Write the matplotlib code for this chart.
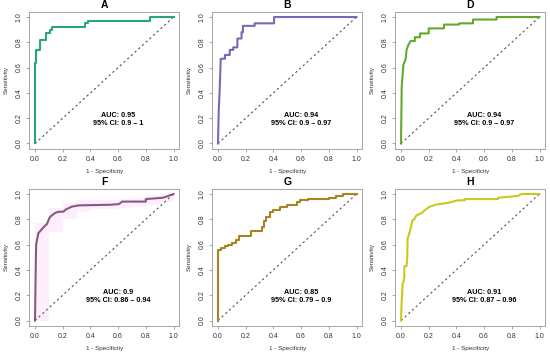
import matplotlib.pyplot as plt

plt.rcParams['font.family'] = ['Liberation Sans', 'DejaVu Sans']

# ROC curves (1 - specificity, sensitivity)
fpr_A = [0, 0, 0.01, 0.01, 0.035, 0.035, 0.08, 0.08, 0.11, 0.11, 0.125, 0.125, 0.36, 0.36, 0.38, 0.38, 0.83, 0.83, 1.0]
tpr_A = [0, 0.64, 0.64, 0.74, 0.74, 0.82, 0.82, 0.87, 0.87, 0.90, 0.90, 0.92, 0.92, 0.95, 0.95, 0.97, 0.97, 1.0, 1.0]

fpr_B = [0, 0.005, 0.012, 0.02, 0.05, 0.05, 0.085, 0.085, 0.11, 0.11, 0.14, 0.14, 0.17, 0.17, 0.18, 0.18, 0.265, 0.265, 0.405, 0.405, 1.0]
tpr_B = [0, 0.25, 0.42, 0.67, 0.67, 0.70, 0.70, 0.74, 0.74, 0.76, 0.76, 0.83, 0.83, 0.88, 0.88, 0.93, 0.93, 0.95, 0.95, 1.0, 1.0]

fpr_D = [0, 0.005, 0.017, 0.034, 0.04, 0.053, 0.07, 0.10, 0.10, 0.137, 0.137, 0.20, 0.20, 0.31, 0.31, 0.42, 0.42, 0.52, 0.52, 0.69, 0.69, 1.0]
tpr_D = [0, 0.45, 0.62, 0.67, 0.74, 0.78, 0.81, 0.81, 0.84, 0.84, 0.87, 0.87, 0.91, 0.91, 0.94, 0.94, 0.95, 0.95, 0.98, 0.98, 1.0, 1.0]

fpr_F = [0, 0.005, 0.008, 0.024, 0.048, 0.073, 0.085, 0.104, 0.109, 0.145, 0.17, 0.206, 0.218, 0.266, 0.315, 0.545, 0.605, 0.63, 0.8, 0.8, 0.92, 0.95, 1.0]
tpr_F = [0, 0.40, 0.60, 0.69, 0.72, 0.75, 0.76, 0.81, 0.82, 0.85, 0.86, 0.86, 0.875, 0.90, 0.91, 0.915, 0.92, 0.94, 0.94, 0.96, 0.97, 0.98, 1.0]
# pink confidence band for F (sensitivity CI)
ci_x_F = [0, 0.1, 0.2, 0.3, 0.4, 0.5, 0.6, 0.7, 0.8, 0.9, 1.0]
ci_lo_F = [0, 0.70, 0.80, 0.86, 0.88, 0.88, 0.89, 0.90, 0.91, 0.94, 0.97]
ci_hi_F = [0.77, 0.89, 0.93, 0.95, 0.95, 0.95, 0.96, 0.97, 0.99, 1.0, 1.0]

fpr_G = [0, 0, 0.02, 0.02, 0.05, 0.05, 0.07, 0.07, 0.10, 0.10, 0.13, 0.13, 0.15, 0.15, 0.24, 0.24, 0.315, 0.315, 0.33, 0.33, 0.345, 0.345,
         0.375, 0.375, 0.40, 0.40, 0.45, 0.45, 0.50, 0.50, 0.57, 0.57, 0.59, 0.59, 0.65, 0.65, 0.80, 0.80, 0.85, 0.85, 0.90, 0.90, 1.0]
tpr_G = [0, 0.56, 0.56, 0.575, 0.575, 0.59, 0.59, 0.60, 0.60, 0.615, 0.615, 0.64, 0.64, 0.67, 0.67, 0.71, 0.71, 0.74, 0.74, 0.79, 0.79, 0.82,
         0.82, 0.855, 0.855, 0.875, 0.875, 0.895, 0.895, 0.915, 0.915, 0.94, 0.94, 0.95, 0.95, 0.96, 0.96, 0.97, 0.97, 0.985, 0.985, 1.0, 1.0]

fpr_H = [0, 0.005, 0.012, 0.017, 0.024, 0.024, 0.04, 0.045, 0.048, 0.058, 0.072, 0.082, 0.096, 0.11, 0.15, 0.17, 0.20, 0.245, 0.34, 0.41,
         0.46, 0.46, 0.70, 0.70, 0.845, 0.87, 1.0]
tpr_H = [0, 0.15, 0.295, 0.30, 0.34, 0.43, 0.43, 0.49, 0.65, 0.68, 0.74, 0.79, 0.80, 0.83, 0.85, 0.87, 0.895, 0.915, 0.93, 0.95,
         0.95, 0.96, 0.96, 0.97, 0.985, 1.0, 1.0]

titles = ['A', 'B', 'D', 'F', 'G', 'H']
aucs = ['0.95', '0.94', '0.94', '0.9', '0.85', '0.91']
cis = ['0.9 \u2013 1', '0.9 \u2013 0.97', '0.9 \u2013 0.97', '0.86 \u2013 0.94', '0.79 \u2013 0.9', '0.87 \u2013 0.96']
colors = ['#2aa57f', '#6f6cbb', '#66a82e', '#8a5883', '#a8841e', '#c9c91e']
curves = [(fpr_A, tpr_A), (fpr_B, tpr_B), (fpr_D, tpr_D), (fpr_F, tpr_F), (fpr_G, tpr_G), (fpr_H, tpr_H)]

W, H = 550, 356
fig = plt.figure(figsize=(W / 100, H / 100), dpi=100)

x0_px = [35, 218, 401]   # pixel of x = 0 in each column
y1_px = [17, 194]        # pixel of y = 1 in each row
sx, sy = 138.5, 126.5    # pixels per data unit

for i in range(6):
    r, c = divmod(i, 3)
    left = x0_px[c] - 0.04 * sx
    top = y1_px[r] - 0.04 * sy
    ax = fig.add_axes([left / W, 1 - (top + 1.08 * sy) / H, 1.08 * sx / W, 1.08 * sy / H])
    fpr, tpr = curves[i]
    if titles[i] == 'F':
        ax.fill_between(ci_x_F, ci_lo_F, ci_hi_F, step='post', color='#fdf0fc', lw=0, zorder=0)
    ax.plot([0, 1], [0, 1], color='#555555', lw=0.8, ls=(0, (2, 2.5)))
    ax.plot(fpr, tpr, color=colors[i], lw=1.5)
    ax.set_xlim(-0.04, 1.04)
    ax.set_ylim(-0.04, 1.04)
    ax.set_xticks([0, 0.2, 0.4, 0.6, 0.8, 1.0])
    ax.set_yticks([0, 0.2, 0.4, 0.6, 0.8, 1.0])
    ax.set_xticklabels(['0.0', '0.2', '0.4', '0.6', '0.8', '1.0'], fontsize=5)
    ax.set_yticklabels(['0.0', '0.2', '0.4', '0.6', '0.8', '1.0'], fontsize=5, rotation=90, va='center')
    ax.tick_params(length=2.5, width=0.5, color='#888888', labelcolor='#333333', pad=2.5)
    for s in ax.spines.values():
        s.set_color('#999999')
        s.set_linewidth(0.6)
    ax.set_xlabel('1 - Specificity', fontsize=4.5, color='#333333', labelpad=5)
    ax.set_ylabel('Sensitivity', fontsize=4.5, color='#333333', labelpad=5)
    ax.set_title(titles[i], fontsize=7.5, fontweight='bold', pad=2.5)
    ax.text(0.6, 0.22, 'AUC: ' + aucs[i], ha='center', va='center', fontsize=5.2, fontweight='bold')
    ax.text(0.6, 0.16, '95% CI: ' + cis[i], ha='center', va='center', fontsize=5.2, fontweight='bold')

plt.savefig('out.png', dpi=100)
